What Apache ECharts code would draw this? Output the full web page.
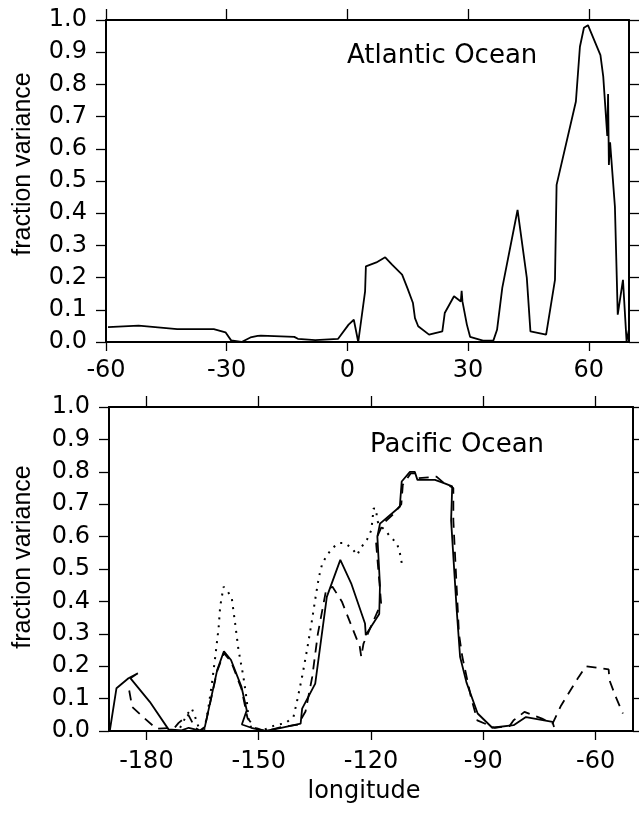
<!DOCTYPE html>
<html>
<head>
<meta charset="utf-8">
<script src="https://cdn.jsdelivr.net/npm/echarts@6/dist/echarts.min.js"></script>
<style>html,body{margin:0;padding:0;background:#fff}#c{width:639px;height:813px}</style>
</head>
<body>
<div id="c"></div>
<script>
// ---------- Data ----------
const atlTicks = [-60, -30, 0, 30, 60];
const pacTicks = [-180, -150, -120, -90, -60];
const yTicks = [0, 0.1, 0.2, 0.3, 0.4, 0.5, 0.6, 0.7, 0.8, 0.9, 1.0];

const atlLon = [-59.5, -51.9, -42.3, -33.2, -30.3, -28.9, -26.3, -24.1, -22.3, -21.5, -13.2, -12.3, -8.0, -2.3, 0.3, 1.6, 2.7, 4.4, 4.6, 7.2, 9.4, 11.1, 13.6, 14.9, 16.3, 16.8, 17.6, 20.3, 23.6, 24.2, 26.5, 28.2, 28.4, 28.6, 29.7, 30.5, 33.7, 36.3, 37.2, 38.5, 42.3, 44.6, 45.5, 49.4, 51.6, 52.0, 56.8, 57.8, 58.8, 59.8, 62.9, 63.6, 64.6, 64.8, 65.0, 65.3, 66.5, 67.2, 68.5, 69.4, 70.0];
const atlVal = [0.046, 0.051, 0.040, 0.040, 0.030, 0.005, 0.0, 0.014, 0.019, 0.020, 0.016, 0.010, 0.006, 0.010, 0.054, 0.069, 0.0, 0.157, 0.235, 0.247, 0.263, 0.240, 0.209, 0.168, 0.121, 0.074, 0.049, 0.023, 0.033, 0.090, 0.142, 0.126, 0.159, 0.126, 0.054, 0.016, 0.004, 0.005, 0.038, 0.168, 0.41, 0.199, 0.033, 0.023, 0.193, 0.488, 0.747, 0.917, 0.976, 0.984, 0.891, 0.824, 0.64, 0.77, 0.55, 0.62, 0.42, 0.085, 0.193, 0.002, 0.04];

const pacSolidLon = [-189.8, -188.0, -184.8, -182.3, -184.3, -179.1, -174.1, -170.6, -168.7, -167.3, -165.9, -164.4, -161.1, -159.3, -157.4, -154.6, -153.2, -154.5, -152.0, -148.2, -144.0, -138.8, -138.4, -134.9, -131.8, -128.2, -125.3, -121.6, -121.4, -117.8, -117.6, -118.3, -117.6, -112.3, -111.8, -109.6, -108.3, -107.6, -102.9, -100.5, -98.3, -98.6, -97.1, -96.2, -94.5, -91.5, -87.6, -81.9, -78.6, -71.5, -71.1];
const pacSolidVal = [0.0, 0.132, 0.163, 0.178, 0.163, 0.090, 0.005, 0.002, 0.010, 0.006, 0.0, 0.012, 0.188, 0.246, 0.219, 0.136, 0.064, 0.020, 0.010, 0.0, 0.010, 0.023, 0.069, 0.146, 0.414, 0.528, 0.456, 0.332, 0.296, 0.361, 0.45, 0.60, 0.640, 0.692, 0.770, 0.80, 0.80, 0.775, 0.775, 0.765, 0.755, 0.65, 0.373, 0.229, 0.15, 0.054, 0.010, 0.018, 0.043, 0.028, 0.012];

const pacDashLon = [-184.6, -183.8, -180.9, -177.3, -172.5, -171.4, -168.8, -167.0, -165.5, -164.4, -161.1, -159.3, -157.4, -154.6, -153.0, -151.0, -148.2, -144.0, -139.5, -137.5, -135.7, -134.2, -132.0, -130.3, -127.8, -125.4, -123.0, -122.6, -122.0, -117.3, -118.7, -116.8, -114.0, -111.9, -111.5, -109.4, -108.0, -107.5, -102.5, -100.5, -98.0, -98.0, -96.5, -95.6, -93.3, -91.6, -87.0, -83.0, -81.9, -79.0, -74.3, -71.5, -69.2, -64.5, -62.6, -56.5, -56.3, -54.6, -52.7];
const pacDashVal = [0.125, 0.074, 0.043, 0.007, 0.010, 0.025, 0.05, 0.01, 0.0, 0.012, 0.185, 0.24, 0.215, 0.13, 0.04, 0.01, 0.0, 0.012, 0.02, 0.06, 0.167, 0.30, 0.435, 0.445, 0.40, 0.33, 0.26, 0.229, 0.27, 0.394, 0.59, 0.64, 0.67, 0.70, 0.76, 0.795, 0.795, 0.78, 0.785, 0.765, 0.75, 0.65, 0.30, 0.229, 0.105, 0.033, 0.01, 0.015, 0.033, 0.059, 0.038, 0.023, 0.079, 0.167, 0.2, 0.19, 0.157, 0.105, 0.054];

const pacDotLon = [-171.0, -169.2, -167.9, -167.0, -166.1, -164.5, -163.4, -162.5, -161.6, -160.7, -160.3, -159.4, -158.5, -157.2, -156.3, -155.4, -154.1, -153.2, -152.7, -152.0, -148.5, -145.6, -142.9, -140.7, -139.8, -138.4, -137.1, -135.9, -134.8, -133.9, -133.0, -131.7, -130.4, -128.6, -127.0, -125.1, -123.7, -122.8, -121.1, -119.9, -119.3, -118.5, -118.5, -117.8, -116.2, -114.9, -113.1, -112.3, -111.6];
const pacDotVal = [0.01, 0.05, 0.07, 0.044, 0.013, 0.005, 0.075, 0.147, 0.23, 0.32, 0.384, 0.445, 0.435, 0.41, 0.332, 0.25, 0.168, 0.096, 0.034, 0.01, 0.004, 0.018, 0.024, 0.044, 0.09, 0.168, 0.25, 0.332, 0.414, 0.476, 0.518, 0.543, 0.564, 0.58, 0.58, 0.564, 0.543, 0.564, 0.59, 0.62, 0.687, 0.685, 0.655, 0.635, 0.62, 0.60, 0.58, 0.55, 0.507];

// ---------- Chart ----------
const zip = (a, b) => a.map((v, i) => [v, b[i]]);
const hFont = 'DejaVu Sans';
const black = '#000';
const lineAx = { show: true, onZero: false, lineStyle: { color: black, width: 2 } };
const tickOut = (len, vals) => ({ show: true, inside: false, length: len, lineStyle: { color: black, width: 1.3 }, customValues: vals });

function xMain(grid, min, max, ticks, margin) {
  return {
    type: 'value', gridIndex: grid, position: 'bottom', min: min, max: max,
    axisLine: lineAx, axisTick: tickOut(9, ticks),
    axisLabel: { show: true, customValues: ticks, margin: margin, color: black, fontFamily: hFont, fontSize: 24 },
    splitLine: { show: false }
  };
}
function xTop(grid, min, max, ticks) {
  return {
    type: 'value', gridIndex: grid, position: 'top', min: min, max: max,
    axisLine: lineAx, axisTick: tickOut(11, ticks),
    axisLabel: { show: false }, splitLine: { show: false }
  };
}
function yMain(grid) {
  return {
    type: 'value', gridIndex: grid, position: 'left', min: 0, max: 1,
    axisLine: lineAx, axisTick: tickOut(10, yTicks),
    axisLabel: { show: true, customValues: yTicks, margin: 19, color: black, fontFamily: hFont, fontSize: 24,
      formatter: v => Number(v).toFixed(1) },
    splitLine: { show: false }
  };
}
function yRight(grid) {
  return {
    type: 'value', gridIndex: grid, position: 'right', min: 0, max: 1,
    axisLine: lineAx, axisTick: tickOut(10, yTicks),
    axisLabel: { show: false }, splitLine: { show: false }
  };
}

const chart = echarts.init(document.getElementById('c'), null, { renderer: 'canvas' });
chart.setOption({
  backgroundColor: '#fff',
  animation: false,
  grid: [
    { left: 106, top: 20, width: 523, height: 322 },
    { left: 109, top: 407, width: 524, height: 324 }
  ],
  xAxis: [
    xMain(0, -60, 70, atlTicks, 17),
    xTop(0, -60, 70, atlTicks),
    xMain(1, -190, -50, pacTicks, 19),
    xTop(1, -190, -50, pacTicks)
  ],
  yAxis: [yMain(0), yRight(0), yMain(1), yRight(1)],
  series: [
    { type: 'line', xAxisIndex: 0, yAxisIndex: 0, data: zip(atlLon, atlVal), showSymbol: false,
      lineStyle: { color: black, width: 1.8 } },
    { type: 'line', xAxisIndex: 2, yAxisIndex: 2, data: zip(pacSolidLon, pacSolidVal), showSymbol: false,
      lineStyle: { color: black, width: 1.8 } },
    { type: 'line', xAxisIndex: 2, yAxisIndex: 2, data: zip(pacDashLon, pacDashVal), showSymbol: false,
      lineStyle: { color: black, width: 1.8, type: [10, 7] } },
    { type: 'line', xAxisIndex: 2, yAxisIndex: 2, data: zip(pacDotLon, pacDotVal), showSymbol: false,
      lineStyle: { color: black, width: 2, type: [2, 6] } }
  ],
  graphic: [
    { type: 'text', x: 347, y: 56, style: { text: 'Atlantic Ocean', font: '26px "DejaVu Sans"', fill: black, textAlign: 'left', textVerticalAlign: 'middle' } },
    { type: 'text', x: 370, y: 445, style: { text: 'Pacific Ocean', font: '26px "DejaVu Sans"', fill: black, textAlign: 'left', textVerticalAlign: 'middle' } },
    { type: 'text', x: 23, y: 164, rotation: Math.PI / 2, style: { text: 'fraction variance', font: '25px "Liberation Sans"', fill: black, textAlign: 'center', textVerticalAlign: 'middle' } },
    { type: 'text', x: 23, y: 557, rotation: Math.PI / 2, style: { text: 'fraction variance', font: '25px "Liberation Sans"', fill: black, textAlign: 'center', textVerticalAlign: 'middle' } },
    { type: 'text', x: 364, y: 792, style: { text: 'longitude', font: '24px "DejaVu Sans"', fill: black, textAlign: 'center', textVerticalAlign: 'middle' } }
  ]
});
</script>
</body>
</html>
